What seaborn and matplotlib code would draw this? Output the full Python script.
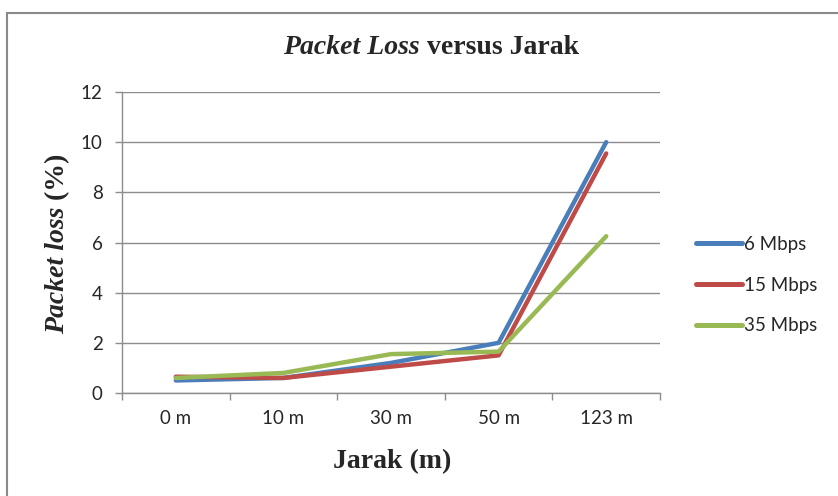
import matplotlib
matplotlib.use("Agg")
import matplotlib.pyplot as plt
import seaborn as sns
import pandas as pd
from matplotlib.patches import Rectangle

# Data
distances = ["0 m", "10 m", "30 m", "50 m", "123 m"]
loss_6 = [0.5, 0.6, 1.2, 2.0, 10.0]
loss_15 = [0.65, 0.6, 1.05, 1.5, 9.55]
loss_35 = [0.6, 0.8, 1.55, 1.65, 6.25]
series_names = ["6 Mbps", "15 Mbps", "35 Mbps"]
y_ticks = [0, 2, 4, 6, 8, 10, 12]

colors = ["#4A7EBB", "#BE4B48", "#98B954"]

rows = []
for name, vals in zip(series_names, [loss_6, loss_15, loss_35]):
    for i, (d, v) in enumerate(zip(distances, vals)):
        rows.append({"pos": i, "Jarak": d, "loss": v, "series": name})
df = pd.DataFrame(rows)

sns.set_theme(style="white")
plt.rcParams["font.family"] = ["Lato", "DejaVu Sans"]

W, H = 838, 496
fig = plt.figure(figsize=(W / 100, H / 100), dpi=100)
ax = fig.add_axes([122 / W, 1 - 393 / H, (660 - 122) / W, (393 - 92) / H])

sns.lineplot(data=df, x="pos", y="loss", hue="series", palette=colors,
             linewidth=3.2, ax=ax, legend=False, sort=False)
for ln in ax.get_lines():
    ln.set_solid_capstyle("round")
    ln.set_solid_joinstyle("round")

ax.set_xlim(-0.5, len(distances) - 0.5)
ax.set_ylim(0, 12)
ax.set_yticks(y_ticks)
ax.set_yticklabels([str(t) for t in y_ticks], fontsize=13.5)
ax.yaxis.grid(True, color="#8c8c8c", linewidth=1.0)
ax.set_axisbelow(True)

# category labels at centers, tick marks at boundaries
ax.set_xticks(range(len(distances)))
ax.set_xticklabels(distances, fontsize=13.5)
ax.tick_params(axis="x", which="major", length=0, pad=12)
ax.set_xticks([i - 0.5 for i in range(len(distances) + 1)], minor=True)
ax.tick_params(axis="x", which="minor", length=5, width=1, color="#8c8c8c",
               direction="out", bottom=True)
ax.tick_params(axis="y", length=5, width=1, color="#8c8c8c", direction="out",
               left=True, pad=9)

for side in ["top", "right"]:
    ax.spines[side].set_visible(False)
for side in ["left", "bottom"]:
    ax.spines[side].set_color("#8c8c8c")
    ax.spines[side].set_linewidth(1.0)

ax.set_xlabel("")
ax.set_ylabel("")

# legend
handles = [plt.Line2D([], [], color=c, lw=3.6, solid_capstyle="round")
           for c in colors]
fig.legend(handles, series_names, loc="center left",
           bbox_to_anchor=(696 / W, 1 - 285 / H), frameon=False,
           fontsize=13.5, handlelength=2.45, handletextpad=0.1,
           labelspacing=1.26, borderaxespad=0, borderpad=0)

serif = ["Liberation Serif", "DejaVu Serif"]
fs = 20
r = fig.canvas.get_renderer()

# title with italic part
ty = 1 - 48 / H
t1 = fig.text(0, ty, "Packet Loss", fontsize=fs, fontweight="bold",
              fontstyle="italic", family=serif, ha="center", va="center")
t2 = fig.text(0, ty, " versus Jarak", fontsize=fs, fontweight="bold",
              family=serif, ha="center", va="center")
w1 = t1.get_window_extent(renderer=r).width
w2 = t2.get_window_extent(renderer=r).width
left = 431 - (w1 + w2) / 2
t1.set_position(((left + w1 / 2) / W, ty))
t2.set_position(((left + w1 + w2 / 2) / W, ty))

# x label
fig.text(392 / W, 1 - 462 / H, "Jarak (m)", fontsize=fs, fontweight="bold",
         family=serif, ha="center", va="center")

# y label with italic part
yx = 58 / W
y1 = fig.text(yx, 0, "Packet loss", fontsize=fs, fontweight="bold",
              fontstyle="italic", family=serif, rotation=90,
              ha="center", va="center")
y2 = fig.text(yx, 0, " (%)", fontsize=fs, fontweight="bold",
              family=serif, rotation=90, ha="center", va="center")
h1 = y1.get_window_extent(renderer=r).height
h2 = y2.get_window_extent(renderer=r).height
bottom = (H - 244) - (h1 + h2) / 2
y1.set_position((yx, (bottom + h1 / 2) / H))
y2.set_position((yx, (bottom + h1 + h2 / 2) / H))

# chart frame
fig.patches.append(Rectangle((7 / W, -0.1), 1.0, 1 - 13 / H + 0.1,
                             transform=fig.transFigure, fill=False,
                             edgecolor="#8a8a8a", linewidth=1.5))

fig.savefig("out.png", dpi=100)
